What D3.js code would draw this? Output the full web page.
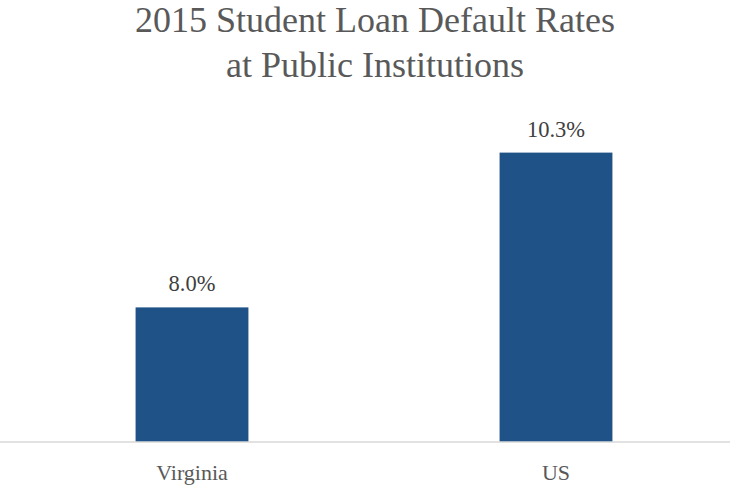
<!DOCTYPE html>
<html>
<head>
<meta charset="utf-8">
<script src="https://cdn.jsdelivr.net/npm/d3@7"></script>
<style>
    body { margin: 0; background: #fff; }
    text { font-family: "Liberation Serif", "Times New Roman", serif; fill: #595959; }
</style>
</head>
<body>
<script>
(function(){

//chart data
var categories = ["Virginia", "US"];
var rates = [8.0, 10.3];
var titleLines = ["2015 Student Loan Default Rates", "at Public Institutions"];

var width = 730,
    height = 488;

window.onload = drawChart();

function drawChart(){

    var svg = d3.select("body")
        .append("svg")
        .attr("width", width)
        .attr("height", height);

    //band scale for the two categories
    var x = d3.scaleBand()
        .domain(categories)
        .range([10, 738])
        .paddingInner(0.69)
        .paddingOuter(0.345);

    //value axis starts at 6%, not at zero
    var y = d3.scaleLinear()
        .domain([6, 11])
        .range([442, 105.5]);

    //title
    svg.selectAll(".title")
        .data(titleLines)
        .enter()
        .append("text")
        .attr("class", "title")
        .attr("x", 375)
        .attr("y", function(d, i){ return 32 + i * 45; })
        .attr("text-anchor", "middle")
        .style("font-size", "36px")
        .text(function(d){ return d; });

    //bars
    svg.selectAll(".bar")
        .data(rates)
        .enter()
        .append("rect")
        .attr("class", "bar")
        .attr("x", function(d, i){ return x(categories[i]); })
        .attr("width", x.bandwidth())
        .attr("y", function(d){ return y(d); })
        .attr("height", function(d){ return y.range()[0] - y(d); })
        .style("fill", "#1F5287");

    //value labels
    svg.selectAll(".value")
        .data(rates)
        .enter()
        .append("text")
        .attr("class", "value")
        .attr("x", function(d, i){ return x(categories[i]) + x.bandwidth() / 2; })
        .attr("y", function(d){ return y(d) - 16; })
        .attr("text-anchor", "middle")
        .style("font-size", "22.5px")
        .style("fill", "#404040")
        .text(function(d){ return d.toFixed(1) + "%"; });

    //category axis
    var axis = svg.append("g")
        .attr("transform", "translate(0," + y.range()[0] + ")")
        .call(d3.axisBottom(x).tickSize(0).tickPadding(22));

    axis.select(".domain")
        .attr("d", "M-3,0H" + (width + 10))
        .attr("stroke", "#D9D9D9")
        .attr("stroke-width", 1.5);

    axis.selectAll(".tick text")
        .style("font-family", "\"Liberation Serif\", serif")
        .style("font-size", "22px")
        .style("fill", "#595959");
};

})();
</script>
</body>
</html>
